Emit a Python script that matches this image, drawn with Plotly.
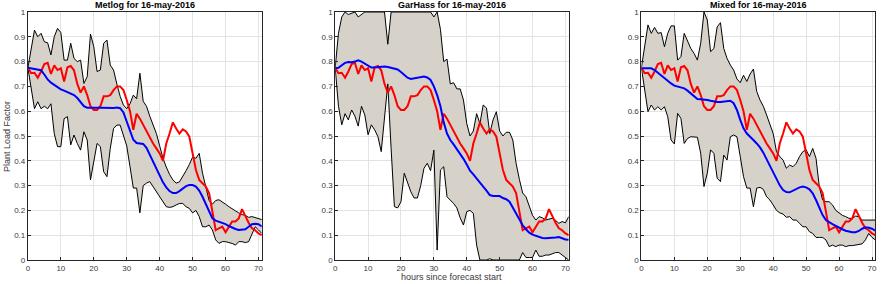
import plotly.graph_objects as go

hours = list(range(72))

actual = [0.775,0.753,0.755,0.735,0.76,0.79,0.795,0.75,0.785,0.766,
          0.773,0.72,0.777,0.782,0.765,0.71,0.675,0.70,0.665,0.62,
          0.605,0.605,0.62,0.66,0.66,0.665,0.685,0.70,0.70,0.685,
          0.645,0.60,0.525,0.59,0.57,0.545,0.52,0.49,0.47,0.45,
          0.43,0.40,0.47,0.51,0.555,0.53,0.51,0.527,0.518,0.497,
          0.43,0.363,0.323,0.31,0.296,0.27,0.19,0.12,0.128,0.135,
          0.112,0.135,0.155,0.155,0.168,0.205,0.175,0.15,0.128,0.12,
          0.107,0.10]

metlog_med = [0.775,0.773,0.77,0.768,0.765,0.748,0.728,0.715,0.705,0.695,
              0.688,0.683,0.678,0.672,0.665,0.653,0.638,0.62,0.614,0.615,
              0.615,0.614,0.614,0.613,0.612,0.612,0.613,0.615,0.612,0.595,
              0.56,0.52,0.485,0.472,0.47,0.468,0.452,0.425,0.393,0.365,
              0.338,0.313,0.293,0.278,0.27,0.27,0.278,0.29,0.298,0.302,
              0.302,0.296,0.28,0.255,0.225,0.192,0.168,0.159,0.155,0.15,
              0.145,0.137,0.13,0.125,0.121,0.121,0.124,0.134,0.144,0.146,
              0.144,0.135]
metlog_hi = [0.775,0.85,0.927,0.90,0.914,0.88,0.876,0.827,0.90,0.934,
             0.917,0.806,0.806,0.874,0.813,0.80,0.806,0.712,0.739,0.911,
             0.86,0.76,0.766,0.874,0.887,0.786,0.766,0.71,0.66,0.625,
             0.61,0.63,0.665,0.65,0.753,0.64,0.62,0.58,0.545,0.51,
             0.46,0.41,0.375,0.345,0.323,0.31,0.315,0.336,0.36,0.385,
             0.415,0.41,0.43,0.35,0.30,0.24,0.225,0.24,0.243,0.235,
             0.225,0.215,0.205,0.198,0.19,0.183,0.18,0.172,0.175,0.17,
             0.165,0.163]
metlog_lo = [0.775,0.685,0.61,0.638,0.61,0.62,0.61,0.63,0.51,0.457,
             0.457,0.57,0.578,0.464,0.504,0.47,0.443,0.517,0.484,0.323,
             0.403,0.47,0.457,0.356,0.336,0.45,0.53,0.544,0.544,0.50,
             0.46,0.376,0.29,0.29,0.19,0.30,0.31,0.316,0.296,0.276,
             0.255,0.235,0.215,0.212,0.215,0.222,0.228,0.228,0.215,0.208,
             0.19,0.20,0.175,0.134,0.134,0.141,0.121,0.081,0.067,0.074,
             0.074,0.07,0.067,0.06,0.074,0.074,0.07,0.074,0.107,0.134,
             0.121,0.107]

garhass_med = [0.773,0.775,0.785,0.795,0.798,0.797,0.80,0.805,0.80,0.792,
               0.783,0.776,0.776,0.778,0.78,0.78,0.778,0.775,0.772,0.768,
               0.758,0.747,0.735,0.73,0.733,0.736,0.738,0.74,0.736,0.726,
               0.70,0.665,0.62,0.555,0.51,0.484,0.466,0.448,0.43,0.408,
               0.385,0.36,0.345,0.33,0.313,0.296,0.28,0.262,0.258,0.258,
               0.258,0.25,0.245,0.235,0.212,0.185,0.16,0.14,0.124,0.11,
               0.102,0.097,0.093,0.089,0.088,0.088,0.089,0.091,0.093,0.088,
               0.083,0.082]
garhass_hi = [0.775,0.914,0.98,1.0,0.99,0.995,1.0,0.98,0.99,1.0,
              1.0,1.0,1.0,1.0,1.0,1.0,0.87,1.0,1.0,1.0,
              1.0,1.0,1.0,1.0,1.0,1.0,1.0,1.0,1.0,1.0,
              0.98,1.0,0.93,0.80,0.81,0.71,0.715,0.69,0.69,0.645,
              0.55,0.50,0.52,0.59,0.55,0.625,0.613,0.51,0.565,0.598,
              0.52,0.50,0.515,0.515,0.484,0.39,0.325,0.27,0.255,0.215,
              0.18,0.161,0.175,0.17,0.161,0.165,0.168,0.16,0.148,0.155,
              0.15,0.175]
garhass_lo = [0.775,0.62,0.545,0.59,0.565,0.605,0.58,0.54,0.62,0.585,
              0.505,0.545,0.525,0.497,0.437,0.565,0.71,0.45,0.215,0.21,
              0.235,0.35,0.31,0.275,0.25,0.25,0.30,0.37,0.39,0.36,
              0.443,0.04,0.363,0.376,0.255,0.242,0.228,0.21,0.17,0.141,
              0.195,0.20,0.188,0.06,0.0,0.0,0.0,0.005,0.0,0.0,
              0.0,0.0,0.0,0.0,0.0,0.0,0.0,0.03,0.01,0.01,
              0.01,0.04,0.015,0.015,0.02,0.02,0.025,0.03,0.03,0.02,
              0.01,0.0]

mixed_med = [0.773,0.774,0.774,0.773,0.766,0.755,0.742,0.733,0.722,0.712,
             0.703,0.699,0.696,0.692,0.683,0.672,0.659,0.649,0.648,0.648,
             0.645,0.642,0.638,0.637,0.637,0.638,0.641,0.642,0.632,0.605,
             0.565,0.531,0.51,0.495,0.484,0.47,0.454,0.433,0.406,0.376,
             0.35,0.323,0.301,0.282,0.274,0.273,0.28,0.288,0.293,0.296,
             0.293,0.285,0.269,0.242,0.212,0.181,0.161,0.152,0.145,0.138,
             0.13,0.124,0.118,0.114,0.112,0.112,0.117,0.126,0.132,0.13,
             0.126,0.118]
mixed_hi = [0.775,0.86,0.948,0.914,0.938,0.914,0.917,0.86,0.914,0.944,
            0.944,0.806,0.82,0.914,0.88,0.853,0.833,0.806,0.874,1.0,
            0.968,0.84,0.853,0.94,0.957,0.853,0.813,0.786,0.766,0.73,
            0.715,0.745,0.72,0.75,0.77,0.68,0.645,0.62,0.585,0.55,
            0.51,0.437,0.417,0.403,0.37,0.383,0.376,0.39,0.417,0.437,
            0.444,0.417,0.45,0.41,0.296,0.242,0.235,0.235,0.222,0.20,
            0.188,0.18,0.175,0.168,0.168,0.177,0.175,0.161,0.161,0.161,
            0.161,0.161]
mixed_lo = [0.775,0.692,0.598,0.625,0.605,0.618,0.605,0.618,0.578,0.484,
            0.468,0.591,0.571,0.47,0.49,0.497,0.497,0.495,0.43,0.296,
            0.35,0.444,0.43,0.33,0.316,0.423,0.403,0.497,0.504,0.497,
            0.417,0.336,0.29,0.29,0.215,0.29,0.293,0.285,0.255,0.242,
            0.222,0.20,0.19,0.185,0.172,0.175,0.161,0.161,0.148,0.134,
            0.134,0.114,0.107,0.091,0.091,0.091,0.081,0.054,0.06,0.054,
            0.06,0.06,0.054,0.058,0.058,0.06,0.063,0.065,0.081,0.107,
            0.091,0.081]

titles = ["Metlog for 16-may-2016", "GarHass for 16-may-2016", "Mixed for 16-may-2016"]
panels = [(metlog_med, metlog_hi, metlog_lo),
          (garhass_med, garhass_hi, garhass_lo),
          (mixed_med, mixed_hi, mixed_lo)]

W, H = 882, 284
px_domains = [(26, 261), (334.7, 569.3), (642.3, 877.3)]

FILL = "#D6D1C9"
fig = go.Figure()
for i, (med, hi, lo) in enumerate(panels):
    xa = "x" if i == 0 else f"x{i+1}"
    ya = "y" if i == 0 else f"y{i+1}"
    fig.add_trace(go.Scatter(x=hours, y=lo, mode="lines", xaxis=xa, yaxis=ya,
                             line=dict(color="black", width=1), showlegend=False,
                             hoverinfo="skip"))
    fig.add_trace(go.Scatter(x=hours, y=hi, mode="lines", xaxis=xa, yaxis=ya,
                             line=dict(color="black", width=1), fill="tonexty",
                             fillcolor=FILL, showlegend=False, hoverinfo="skip"))
    fig.add_trace(go.Scatter(x=hours, y=actual, mode="lines", xaxis=xa, yaxis=ya,
                             line=dict(color="#FF0000", width=2), showlegend=False))
    fig.add_trace(go.Scatter(x=hours, y=med, mode="lines", xaxis=xa, yaxis=ya,
                             line=dict(color="#0000FF", width=2), showlegend=False))

tickfont = dict(family="Liberation Sans, Arial, sans-serif", size=8, color="#3a3a3a")
ytickvals = [round(v * 0.1, 1) for v in range(11)]
yticktext = ["0" if v == 0 else ("1" if v == 1 else f"{v:g}") for v in ytickvals]

layout = dict(width=W, height=H, plot_bgcolor="white", paper_bgcolor="white",
              margin=dict(l=0, r=0, t=12, b=24), showlegend=False)
annotations = []
for i in range(3):
    sfx = "" if i == 0 else str(i + 1)
    d0, d1 = px_domains[i]
    layout["xaxis" + sfx] = dict(domain=[d0 / W, d1 / W], range=[0, 71],
                                 tickvals=[0, 10, 20, 30, 40, 50, 60, 70],
                                 showgrid=True, gridcolor="#E3E3E3", gridwidth=1,
                                 zeroline=False, showline=True, mirror=True,
                                 linecolor="#262626", linewidth=1,
                                 ticks="inside", ticklen=3, tickcolor="#262626",
                                 tickfont=tickfont, anchor="y" + sfx)
    layout["yaxis" + sfx] = dict(domain=[0, 1], range=[0, 1],
                                 tickvals=ytickvals, ticktext=yticktext,
                                 showgrid=True, gridcolor="#E3E3E3", gridwidth=1,
                                 zeroline=False, showline=True, mirror=True,
                                 linecolor="#262626", linewidth=1,
                                 ticks="inside", ticklen=3, tickcolor="#262626",
                                 tickfont=tickfont, anchor="x" + sfx)
    annotations.append(dict(text="<b>" + titles[i] + "</b>", xref="paper", yref="paper",
                            x=(d0 + d1) / 2 / W, y=1, xanchor="center", yanchor="bottom",
                            showarrow=False, yshift=0,
                            font=dict(family="Liberation Sans, Arial, sans-serif",
                                      size=9, color="black")))

annotations.append(dict(text="hours since forecast start", xref="paper", yref="paper",
                        x=(px_domains[1][0] + px_domains[1][1]) / 2 / W, y=0,
                        xanchor="center", yanchor="top", yshift=-10, showarrow=False,
                        font=dict(family="Liberation Sans, Arial, sans-serif", size=9,
                                  color="#3a3a3a")))
annotations.append(dict(text="Plant Load Factor", xref="paper", yref="paper",
                        x=5 / W, y=0.5, xanchor="center", yanchor="middle",
                        textangle=-90, showarrow=False,
                        font=dict(family="Liberation Sans, Arial, sans-serif", size=9,
                                  color="#3a3a3a")))
layout["annotations"] = annotations
fig.update_layout(**layout)
fig.write_html("out.html", config={"displayModeBar": False},
               post_script="document.body.style.margin='0px';document.body.style.padding='0px';")
